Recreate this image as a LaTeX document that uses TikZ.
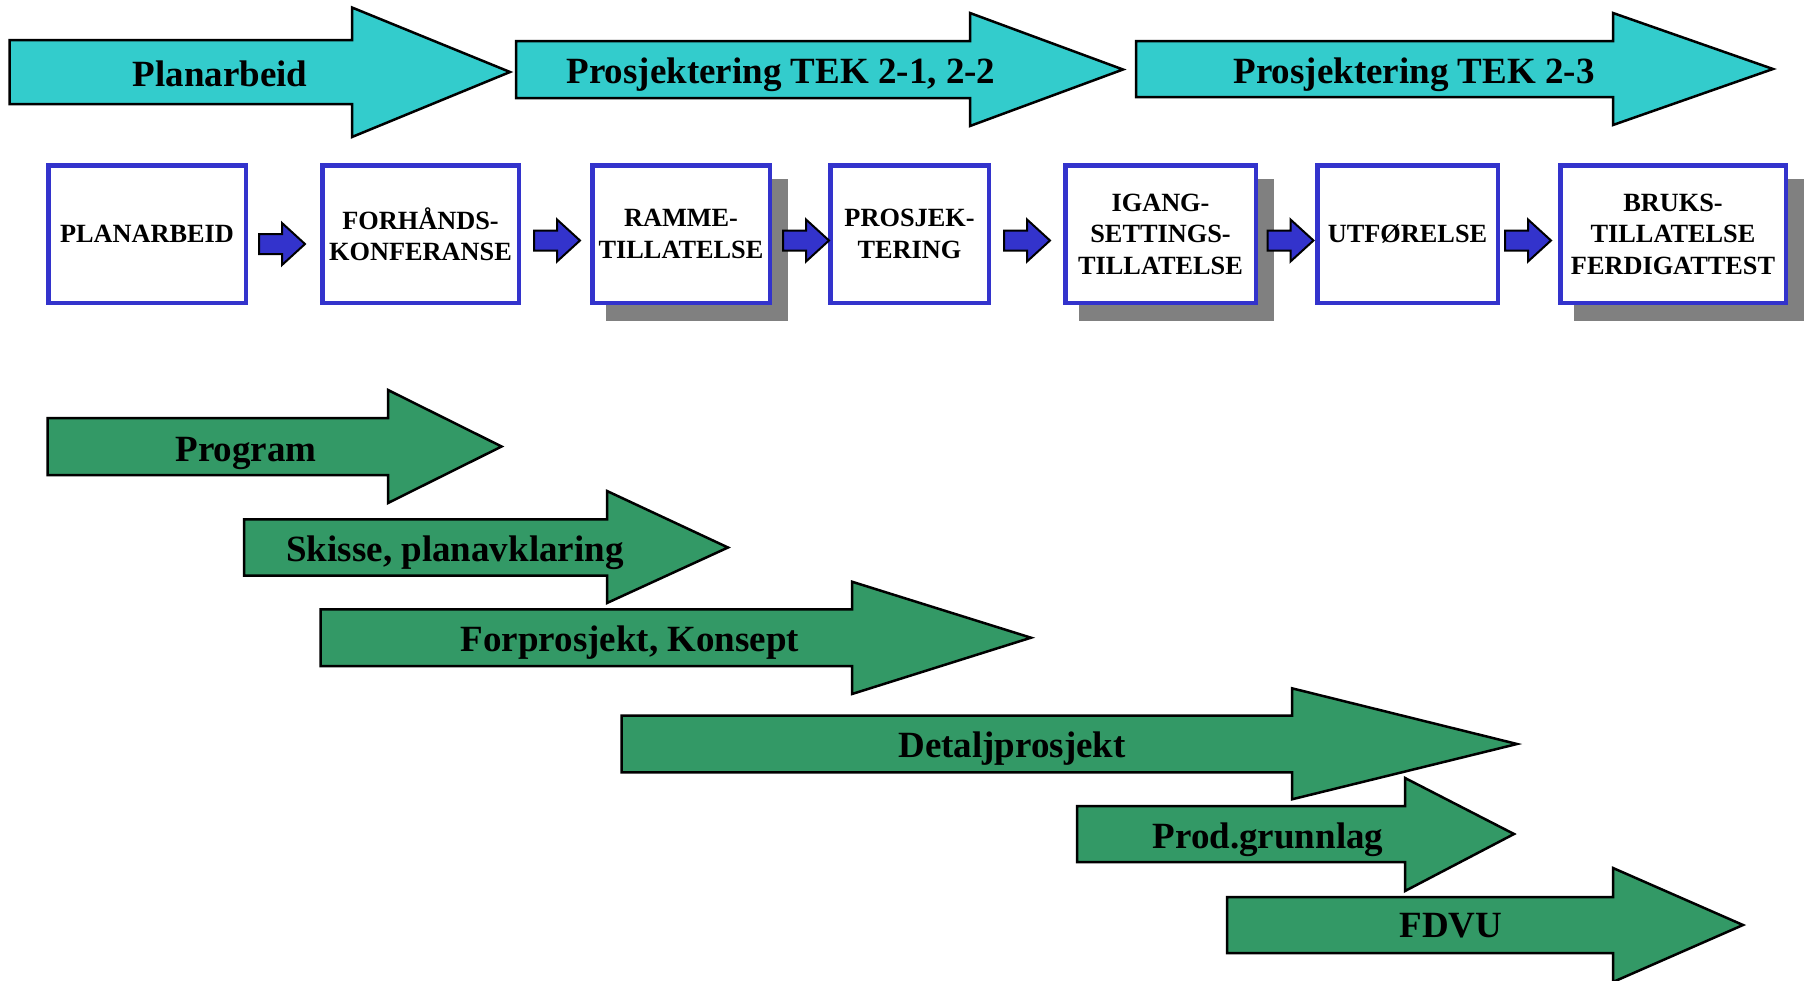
\documentclass[tikz,border=0pt]{standalone}
\usepackage{fontspec}
\setmainfont{Liberation Serif}
\definecolor{tealc}{HTML}{33CCCC}
\definecolor{greenc}{HTML}{339966}
\definecolor{bluec}{HTML}{3333CC}
\definecolor{shadowc}{HTML}{808080}
\newcommand\shapearrow[9]{%
  \draw[bigarr, fill=#1] (#2,#3) -- (#5,#3) -- (#5,#6) -- (#8,#9) -- (#5,#7) -- (#5,#4) -- (#2,#4) -- cycle;}
\newcommand\smallarr[2]{%
  \draw[smallarrst, shift={(#1,#2)}] (0,-10) -- (23,-10) -- (23,-21) -- (46,0) -- (23,21) -- (23,10) -- (0,10) -- cycle;}
\begin{document}
\begin{tikzpicture}[x=1pt,y=-1pt,
  bigarr/.style={draw=black, line width=2.5pt, line join=miter},
  lbl/.style={font=\fontsize{37}{40}\selectfont\bfseries, inner sep=0pt, anchor=base},
  boxst/.style={draw=bluec, line width=4.5pt, fill=white, inner sep=0pt, align=center,
    minimum height=137.5pt, font=\fontsize{26.3}{31.5}\selectfont\bfseries},
  smallarrst/.style={fill=bluec, draw=black, line width=2pt, line join=miter},
  shadowst/.style={fill=shadowc}]
\useasboundingbox (0,0) rectangle (1806,980);
\clip (0,0) rectangle (1806,980);
% top phase arrows
\shapearrow{tealc}{9.5}{40}{104}{352}{7.5}{137}{510}{72}
\shapearrow{tealc}{516}{41}{98}{970}{13}{126}{1123}{69.5}
\shapearrow{tealc}{1136}{41}{97}{1613}{13}{125}{1773}{69}
\node[lbl] (p1) at (220,86) {Planarbeid};
\node[lbl] (p2) at (781,83) {Prosjektering TEK 2-1, 2-2};
\node[lbl] (p3) at (1414,83) {Prosjektering TEK 2-3};
% shadows
\fill[shadowst] (606,179) rectangle (788,321);
\fill[shadowst] (1079,179) rectangle (1274,321);
\fill[shadowst] (1574,179) rectangle (1804,321);
% boxes
\node[boxst, minimum width=197.5pt] (b1) at (147,234) {PLANARBEID};
\node[boxst, minimum width=196.5pt] (b2) at (420.5,234) {FORHÅNDS-\\KONFERANSE};
\node[boxst, minimum width=177.5pt] (b3) at (681,234) {RAMME-\\TILLATELSE};
\node[boxst, minimum width=158.5pt] (b4) at (909.5,234) {PROSJEK-\\TERING};
\node[boxst, minimum width=190.5pt] (b5) at (1160.5,234) {IGANG-\\SETTINGS-\\TILLATELSE};
\node[boxst, minimum width=180.5pt] (b6) at (1407.5,234) {UTFØRELSE};
\node[boxst, minimum width=225.5pt] (b7) at (1673,234) {BRUKS-\\TILLATELSE\\FERDIGATTEST};
% small blue arrows
\smallarr{259}{244}
\smallarr{534}{240.5}
\smallarr{783}{240.5}
\smallarr{1004}{240.5}
\smallarr{1267.5}{240.5}
\smallarr{1505}{240.5}
% green activity arrows
\shapearrow{greenc}{47.7}{418}{475}{388}{390}{503}{501.6}{446.5}
\shapearrow{greenc}{244}{519.3}{575.7}{607}{491}{603}{728}{547.5}
\shapearrow{greenc}{320.6}{609.3}{666}{852}{581.7}{694}{1031}{637.7}
\shapearrow{greenc}{621.5}{715.7}{772.3}{1292}{688.3}{799.3}{1517}{744}
\shapearrow{greenc}{1077}{806}{862}{1405}{778}{891}{1514}{834}
\shapearrow{greenc}{1227}{897}{953}{1613}{868}{982}{1743}{925}
\node[lbl] (g1) at (246,461) {Program};
\node[lbl] (g2) at (455,561) {Skisse, planavklaring};
\node[lbl] (g3) at (630,651) {Forprosjekt, Konsept};
\node[lbl] (g4) at (1012,757.7) {Detaljprosjekt};
\node[lbl] (g5) at (1268,848) {Prod.grunnlag};
\node[lbl] (g6) at (1451,937) {FDVU};
\end{tikzpicture}
\end{document}
